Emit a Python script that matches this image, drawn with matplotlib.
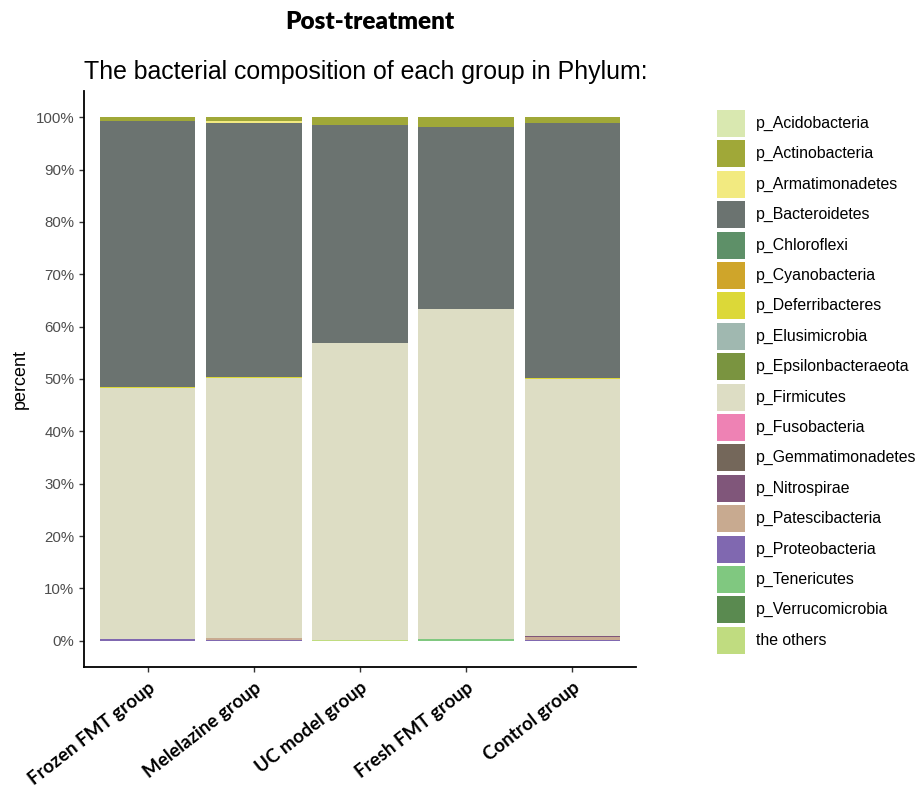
import numpy as np
import matplotlib.pyplot as plt
from matplotlib.patches import Rectangle

# groups on x axis
groups = ['Frozen FMT group', 'Melelazine group', 'UC model group', 'Fresh FMT group', 'Control group']

# phyla, legend order (ggplot stacks the first one on top)
phyla = ['p_Acidobacteria', 'p_Actinobacteria', 'p_Armatimonadetes', 'p_Bacteroidetes',
         'p_Chloroflexi', 'p_Cyanobacteria', 'p_Deferribacteres', 'p_Elusimicrobia',
         'p_Epsilonbacteraeota', 'p_Firmicutes', 'p_Fusobacteria', 'p_Gemmatimonadetes',
         'p_Nitrospirae', 'p_Patescibacteria', 'p_Proteobacteria', 'p_Tenericutes',
         'p_Verrucomicrobia', 'the others']

colors = ['#D9E8B0', '#A0A838', '#F2EA80', '#6B7370', '#5E9068', '#CFA52A', '#DCD838',
          '#A0B8B0', '#7A9440', '#DDDDC4', '#EE82B4', '#74675A', '#80567A', '#C8AA90',
          '#8068B0', '#80C880', '#5A8A50', '#C0DC80']

# percent per phylum (same order as phyla)
frozen_fmt = [0, 0.8, 0, 50.8, 0, 0, 0.1, 0, 0, 48.0, 0, 0, 0, 0, 0.3, 0, 0, 0]
melelazine = [0, 0.8, 0.3, 48.6, 0, 0, 0.1, 0, 0, 49.6, 0, 0, 0, 0.35, 0.25, 0, 0, 0]
uc_model = [0, 1.4, 0, 41.7, 0, 0, 0, 0, 0, 56.7, 0, 0, 0, 0, 0, 0, 0, 0.2]
fresh_fmt = [0, 1.8, 0, 34.9, 0, 0, 0, 0, 0, 62.9, 0, 0, 0, 0, 0.1, 0.3, 0, 0]
control = [0, 1.1, 0, 48.7, 0, 0, 0.2, 0, 0, 49.1, 0, 0, 0.2, 0.5, 0.2, 0, 0, 0]

vals = np.array([frozen_fmt, melelazine, uc_model, fresh_fmt, control]).T  # phyla x groups
x = np.arange(1, len(groups) + 1)

W, H = 920, 789
fig = plt.figure(figsize=(W / 100, H / 100), dpi=100)
ax = fig.add_axes([84 / W, 122 / H, 552 / W, 576 / H])

# stack from the last phylum at bottom up to the first at top
bottom = np.zeros(len(groups))
for i in range(len(phyla) - 1, -1, -1):
    ax.bar(x, vals[i], width=0.9, bottom=bottom, color=colors[i], linewidth=0)
    bottom += vals[i]

ax.set_xlim(0.4, 5.6)
ax.set_ylim(-5, 105)
ax.set_yticks(np.arange(0, 101, 10))
ax.set_yticklabels([f'{v}%' for v in range(0, 101, 10)], fontsize=10.8, color='#4D4D4D',
                   family='Liberation Sans')
ax.set_xticks(x)
ax.set_xticklabels(groups, rotation=38, ha='right', va='top', rotation_mode='anchor',
                   fontsize=13.5, fontweight='bold', family='Lato')
ax.tick_params(axis='both', length=3.5, width=1, color='#333333')
ax.tick_params(axis='x', pad=5)
for s in ['top', 'right']:
    ax.spines[s].set_visible(False)
for s in ['left', 'bottom']:
    ax.spines[s].set_linewidth(1.3)
ax.set_ylabel('percent', fontsize=13, family='Liberation Sans', labelpad=5)

fig.text(370 / W, 1 - 22 / H, 'Post-treatment', ha='center', va='center',
         fontsize=17.5, fontweight='heavy', family='Lato')
fig.text(84 / W, 1 - 72 / H, 'The bacterial composition of each group in Phylum:',
         ha='left', va='center', fontsize=17.9, family='Liberation Sans')

# legend keys, one row per phylum
key_x, key_w, key_h, pitch, top = 717, 28, 27, 30.4, 110
for i, (name, c) in enumerate(zip(phyla, colors)):
    y0 = top + i * pitch
    fig.add_artist(Rectangle((key_x / W, 1 - (y0 + key_h) / H), key_w / W, key_h / H,
                             transform=fig.transFigure, facecolor=c, edgecolor='none'))
    fig.text(756 / W, 1 - (y0 + key_h / 2) / H, name, ha='left', va='center',
             fontsize=11.4, family='Liberation Sans')

fig.savefig('out.png', dpi=100)
